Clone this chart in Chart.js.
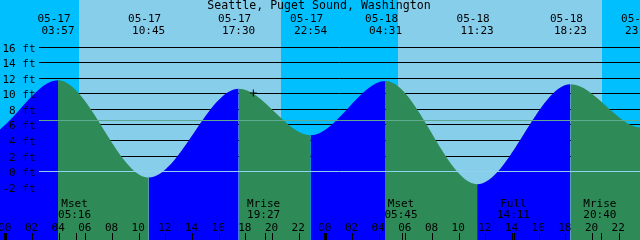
<!DOCTYPE html>
<html><head><meta charset="utf-8">
<script src="https://cdn.jsdelivr.net/npm/chart.js@4/dist/chart.umd.min.js"></script>
<style>html,body{margin:0;padding:0;background:#87CEEB;overflow:hidden}canvas{display:block}</style>
</head><body>
<canvas id="c" width="640" height="240"></canvas>
<script>
// ---- data (hours counted from 05-17 00:00) ----
const chartTitle = 'Seattle, Puget Sound, Washington';
const tideTimes   = [-7.6, -1.6, 3.95, 10.75, 17.5, 22.9, 28.517, 35.383, 42.383, 47.72, 53.9];
const tideHeights = [10.4, 4.5, 11.7, -0.85, 10.6, 4.6, 11.6, -1.7, 11.2, 5.6, 11.0];
const tideDates   = ['', '', '05-17', '05-17', '05-17', '05-17', '05-18', '05-18', '05-18', '05-18', ''];
const tideClock   = ['', '', '03:57', '10:45', '17:30', '22:54', '04:31', '11:23', '18:23', '23:43', ''];
const sunriseTimes = [5.53, 29.43];
const sunsetTimes  = [20.68, 44.73];
const moonTimes  = [5.267, 19.45, 29.75, 38.183, 44.667];
const moonLabels = ['Mset', 'Mrise', 'Mset', 'Full', 'Mrise'];
const moonClock  = ['05:16', '19:27', '05:45', '14:11', '20:40'];
const hourTicks  = [0, 2, 4, 6, 8, 10, 12, 14, 16, 18, 20, 22, 24, 26, 28, 30, 32, 34, 36, 38, 40, 42, 44, 46];
const hourLabels = ['00','02','04','06','08','10','12','14','16','18','20','22','00','02','04','06','08','10','12','14','16','18','20','22'];
const depthTicks  = [-2, 0, 2, 4, 6, 8, 10, 12, 14, 16];
const depthLabels = ['-2 ft', '0 ft', '2 ft', '4 ft', '6 ft', '8 ft', '10 ft', '12 ft', '14 ft', '16 ft'];
const meanLevel = [6.55];
const markTime = [18.6];
const markHeight = [10.06];

// ---- styling ----
const DAY = '#87CEEB', NIGHT = '#00BFFF', RISE = '#0000FF', FALL = '#2E8B57';
const DATUM = '#8fd2ef', MEAN = '#5fa98f';
const LINE_LEFT = 39;
const FONT = '11px "DejaVu Sans Mono", "Liberation Mono", monospace';
const TFONT = '11.6px "DejaVu Sans Mono", "Liberation Mono", monospace';

const tidePoints = tideTimes.map((t, i) => ({x: t, y: tideHeights[i]}));
const markPoints = markTime.map((t, i) => ({x: t, y: markHeight[i]}));

const px = (c, v) => c.scales.x.getPixelForValue(v);
const py = (c, v) => c.scales.y.getPixelForValue(v);

const tidePlugin = {
  id: 'tideDecor',
  beforeDatasetsDraw(c) {
    const ctx = c.ctx, a = c.chartArea;
    ctx.save();
    ctx.fillStyle = NIGHT;
    ctx.fillRect(a.left, a.top, a.right - a.left, a.bottom - a.top);
    ctx.fillStyle = DAY;
    sunriseTimes.forEach((s, i) => {
      const x0 = Math.round(px(c, s)), x1 = Math.round(px(c, sunsetTimes[i]));
      ctx.fillRect(x0, a.top, x1 - x0, a.bottom - a.top);
    });
    ctx.strokeStyle = '#000'; ctx.lineWidth = 1;
    depthTicks.forEach(v => {
      if (v <= 0) return;
      const y = Math.round(py(c, v)) + 0.5;
      ctx.beginPath(); ctx.moveTo(LINE_LEFT, y); ctx.lineTo(a.right, y); ctx.stroke();
    });
    ctx.restore();
  },
  afterDatasetsDraw(c) {
    const ctx = c.ctx, a = c.chartArea;
    ctx.save();
    ctx.lineWidth = 1;
    ctx.strokeStyle = MEAN;
    let y = Math.round(py(c, meanLevel[0])) + 0.5;
    ctx.beginPath(); ctx.moveTo(LINE_LEFT, y); ctx.lineTo(a.right, y); ctx.stroke();
    ctx.strokeStyle = DATUM;
    y = Math.round(py(c, 0)) + 0.5;
    ctx.beginPath(); ctx.moveTo(LINE_LEFT, y); ctx.lineTo(a.right, y); ctx.stroke();
    ctx.restore();
  },
  afterDraw(c) {
    const ctx = c.ctx;
    ctx.save();
    ctx.fillStyle = '#000';
    ctx.textBaseline = 'alphabetic';
    // title
    ctx.font = TFONT; ctx.textAlign = 'center';
    ctx.fillText(chartTitle, 319, 9);
    ctx.font = FONT;
    // high / low labels
    tideTimes.forEach((t, i) => {
      if (!tideClock[i]) return;
      const x = px(c, t);
      ctx.fillText(tideDates[i], x - 4, 22);
      ctx.fillText(tideClock[i], x, 33.5);
    });
    // depth labels
    ctx.textAlign = 'right';
    depthTicks.forEach((v, i) => {
      ctx.fillText(depthLabels[i], 35.5, Math.round(py(c, v)) + 4.5);
    });
    // moon events
    ctx.textAlign = 'center';
    moonTimes.forEach((t, i) => {
      const x = px(c, t) - 1;
      ctx.fillText(moonLabels[i], x, 206.5);
      ctx.fillText(moonClock[i], x, 218);
    });
    // hour labels and ticks
    hourTicks.forEach((h, i) => {
      const x = px(c, h);
      ctx.fillText(hourLabels[i], x - 0.5, 231);
      const w = (h % 24 === 0) ? 3 : 1;
      ctx.fillRect(Math.round(x) - Math.floor(w / 2), 233, w, 7);
    });
    moonTimes.forEach(t => {
      ctx.fillRect(Math.round(px(c, t)), 233, 1, 7);
    });
    ctx.restore();
  }
};

new Chart(document.getElementById('c'), {
  type: 'line',
  data: {
    datasets: [
      {
        label: 'mark', data: markPoints, showLine: false, order: 0,
        pointStyle: 'cross', pointRadius: 3.5, pointBorderColor: '#000', pointBorderWidth: 1,
        pointBackgroundColor: '#000'
      },
      {
        label: 'tide', data: tidePoints, order: 1,
        cubicInterpolationMode: 'monotone',
        borderWidth: 0, borderColor: 'rgba(0,0,0,0)', pointRadius: 0,
        fill: 'start', backgroundColor: FALL,
        segment: {
          backgroundColor: ctx => ctx.p1.parsed.y > ctx.p0.parsed.y ? RISE : FALL
        }
      }
    ]
  },
  options: {
    responsive: false, animation: false, devicePixelRatio: 1,
    layout: {padding: 0, autoPadding: false},
    plugins: {legend: {display: false}, tooltip: {enabled: false}, title: {display: false}},
    scales: {
      x: {type: 'linear', min: -0.4, max: 47.6, display: false},
      y: {type: 'linear', min: -8.90, max: 22.06, display: false}
    }
  },
  plugins: [tidePlugin]
});
</script>
</body></html>
